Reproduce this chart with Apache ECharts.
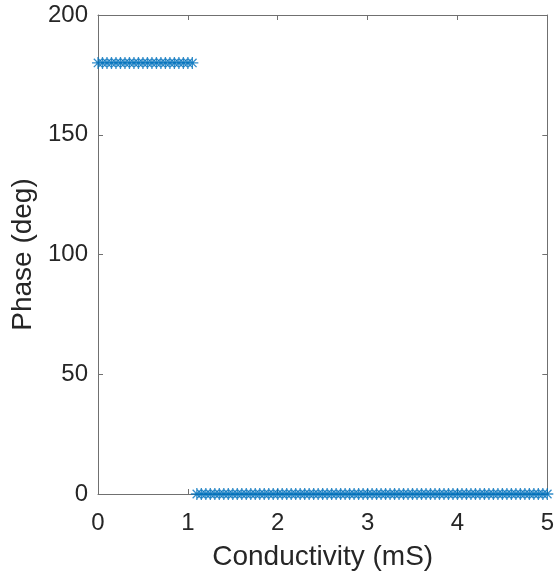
<!DOCTYPE html>
<html><head><meta charset="utf-8">
<script src="https://cdn.jsdelivr.net/npm/echarts@6/dist/echarts.min.js"></script>
<style>html,body{margin:0;padding:0;background:#fff}#c{width:557px;height:578px}</style>
</head><body><div id="c"></div>
<script>
const conductivity = [0,0.05,0.1,0.15,0.2,0.25,0.3,0.35,0.4,0.45,0.5,0.55,0.6,0.65,0.7,0.75,0.8,0.85,0.9,0.95,1,1.05,
1.1,1.15,1.2,1.25,1.3,1.35,1.4,1.45,1.5,1.55,1.6,1.65,1.7,1.75,1.8,1.85,1.9,1.95,2,2.05,2.1,2.15,2.2,2.25,2.3,2.35,2.4,2.45,
2.5,2.55,2.6,2.65,2.7,2.75,2.8,2.85,2.9,2.95,3,3.05,3.1,3.15,3.2,3.25,3.3,3.35,3.4,3.45,3.5,3.55,3.6,3.65,3.7,3.75,3.8,3.85,
3.9,3.95,4,4.05,4.1,4.15,4.2,4.25,4.3,4.35,4.4,4.45,4.5,4.55,4.6,4.65,4.7,4.75,4.8,4.85,4.9,4.95,5];
const phase = [180,180,180,180,180,180,180,180,180,180,180,180,180,180,180,180,180,180,180,180,180,180,
0,0,0,0,0,0,0,0,0,0,0,0,0,0,0,0,0,0,0,0,0,0,0,0,0,0,0,0,0,0,
0,0,0,0,0,0,0,0,0,0,0,0,0,0,0,0,0,0,0,0,0,0,0,0,0,0,0,0,
0,0,0,0,0,0,0,0,0,0,0,0,0,0,0,0,0,0,0,0,0,0,0];
const xTicks = [0,1,2,3,4,5];
const yTicks = [0,50,100,150,200];
const xName = 'Conductivity (mS)';
const yName = 'Phase (deg)';

const pts = conductivity.map((x,i)=>[x,phase[i]]);
const axisCol = '#262626';
const lineCol = '#707070';
const font = 'Liberation Sans, Arial, sans-serif';
const chart = echarts.init(document.getElementById('c'));
const baseAxis = {
  axisLine:{show:true,onZero:false,lineStyle:{color:lineCol,width:1}},
  axisTick:{show:true,inside:true,length:5,lineStyle:{color:lineCol}},
  splitLine:{show:false}
};
chart.setOption({
  animation:false,
  grid:{left:98,right:4,top:15,bottom:84},
  xAxis:[
    Object.assign({type:'value',min:xTicks[0],max:xTicks[xTicks.length-1],interval:1,position:'bottom',
      name:xName,nameLocation:'middle',nameGap:49,
      nameTextStyle:{fontSize:28,color:axisCol,fontFamily:font},
      axisLabel:{fontSize:24,color:axisCol,fontFamily:font,margin:17}},baseAxis),
    Object.assign({type:'value',min:xTicks[0],max:xTicks[xTicks.length-1],interval:1,position:'top',axisLabel:{show:false}},baseAxis)
  ],
  yAxis:[
    Object.assign({type:'value',min:yTicks[0],max:yTicks[yTicks.length-1],interval:50,position:'left',
      name:yName,nameLocation:'middle',nameGap:58,
      nameTextStyle:{fontSize:28,color:axisCol,fontFamily:font},
      axisLabel:{fontSize:24,color:axisCol,fontFamily:font,margin:10}},baseAxis),
    Object.assign({type:'value',min:yTicks[0],max:yTicks[yTicks.length-1],interval:50,position:'right',axisLabel:{show:false}},baseAxis)
  ],
  series:[{
    type:'scatter',
    data:pts,
    symbol:'path://M0,-10L0,10M-10,0L10,0M-7,-7L7,7M-7,7L7,-7',
    symbolSize:12,
    itemStyle:{color:'rgba(0,0,0,0)',borderColor:'#0072BD',borderWidth:1.3},
    clip:false
  }]
});
</script></body></html>
